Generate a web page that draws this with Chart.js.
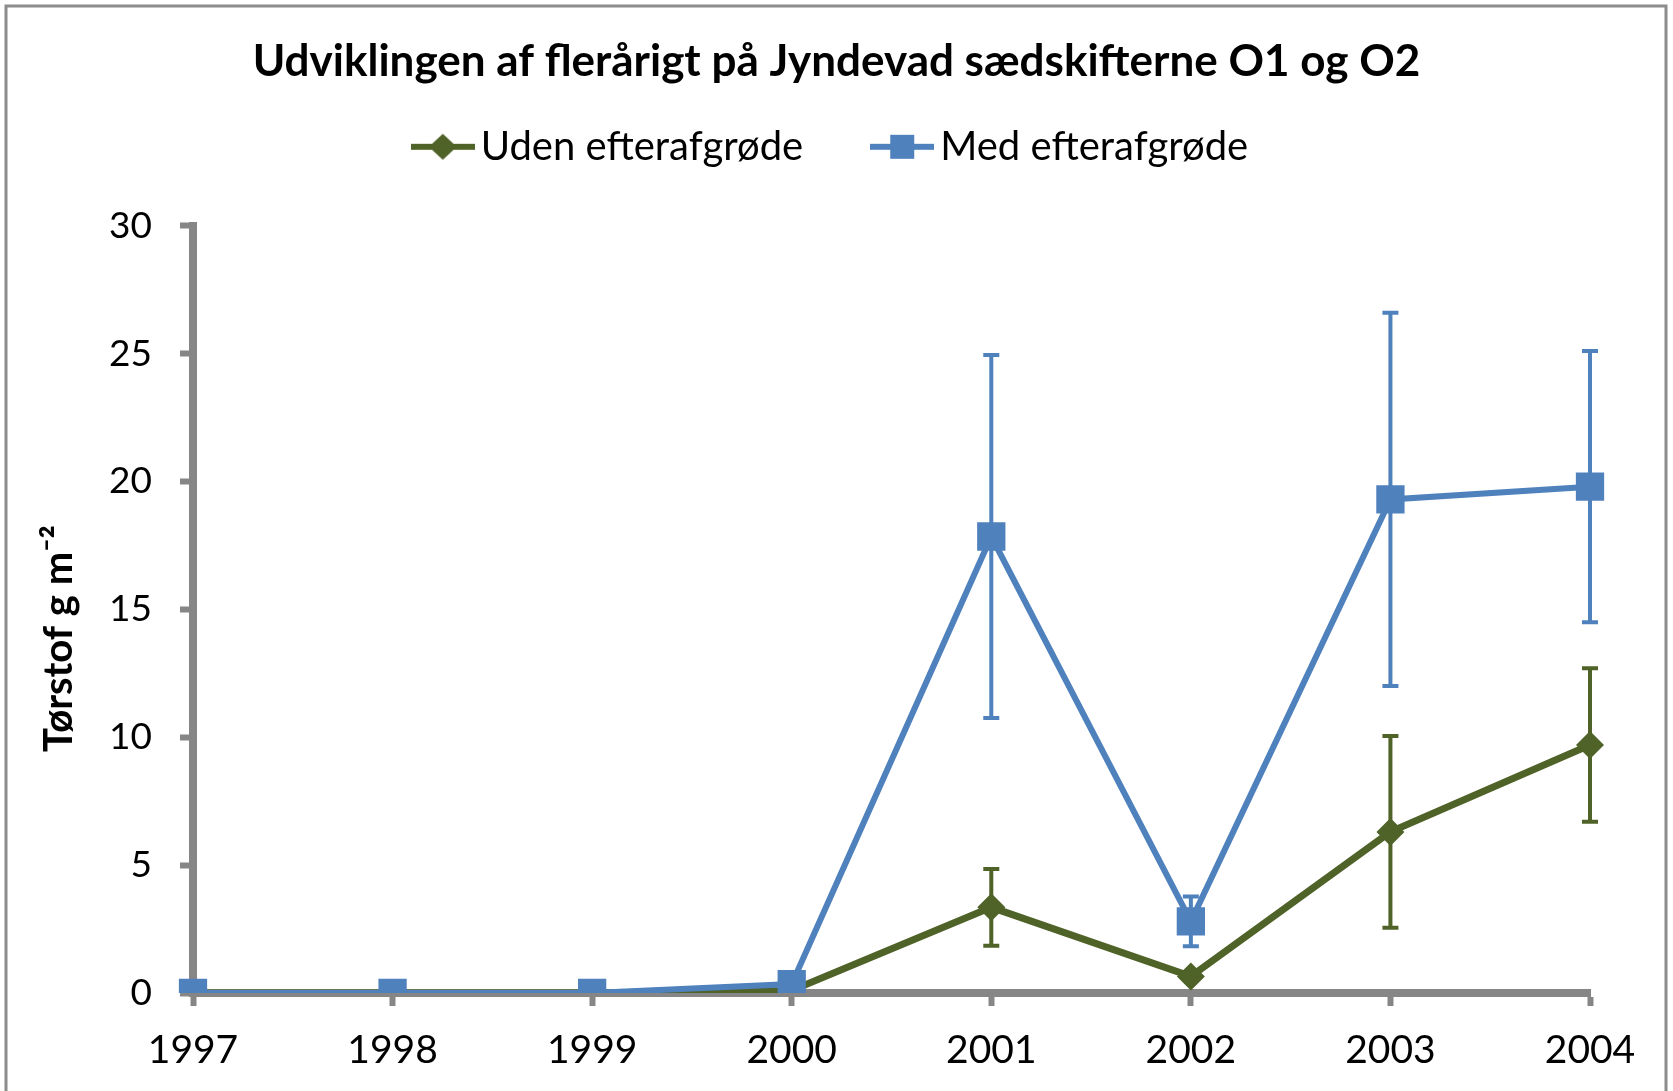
<!DOCTYPE html>
<html>
<head>
<meta charset="utf-8">
<script src="https://cdn.jsdelivr.net/npm/chart.js@4.4.1/dist/chart.umd.min.js"></script>
<style>
html,body{margin:0;padding:0;background:#fff;}
#wrap{width:1673px;height:1091px;}
</style>
</head>
<body>
<div id="wrap"><canvas id="chart" width="1673" height="1091"></canvas></div>
<script>
// ===================== Data =====================
const years = ["1997","1998","1999","2000","2001","2002","2003","2004"];
const udenVals = [0, 0, 0, 0.1, 3.35, 0.65, 6.3, 9.7];
const udenErr  = [0, 0, 0, 0, 1.5, 0, 3.75, 3.0];
const medVals  = [0, 0, 0, 0.35, 17.85, 2.8, 19.3, 19.8];
const medErr   = [0, 0, 0, 0, 7.1, 0.97, 7.3, 5.3];
const yMin = 0, yMax = 30, yStep = 5;

const GREEN = "#4f6228", BLUE = "#4f81bd", AXIS = "#868686";
const FONT = "Lato, 'Open Sans', sans-serif";

// ===================== Legend markers (line + marker) =====================
function legendIcon(color, style){
    const c = document.createElement("canvas");
    c.width = 64; c.height = 30;
    const g = c.getContext("2d");
    g.fillStyle = color; g.strokeStyle = color;
    g.lineWidth = 6;
    g.beginPath(); g.moveTo(0,15); g.lineTo(64,15); g.stroke();
    g.beginPath();
    if(style==="diamond"){
        g.moveTo(32,2); g.lineTo(46,15); g.lineTo(32,28); g.lineTo(18,15);
    }else{
        g.rect(20,3,24,24);
    }
    g.closePath(); g.fill();
    return c;
}

// ===================== Plugins =====================
const frame = {
    id:"frame",
    beforeDraw(chart){
        const ctx = chart.ctx;
        ctx.save();
        ctx.fillStyle = "#fff";
        ctx.fillRect(0,0,chart.width,chart.height);
        ctx.strokeStyle = "#8c8c8c";
        ctx.lineWidth = 3;
        ctx.beginPath();
        ctx.moveTo(6,chart.height+5); ctx.lineTo(6,6); ctx.lineTo(1666,6); ctx.lineTo(1666,chart.height+5);
        ctx.stroke();
        ctx.restore();
    }
};

const errorBars = {
    id:"errorBars",
    beforeDatasetsDraw(chart){
        const ctx = chart.ctx, ys = chart.scales.y;
        chart.data.datasets.forEach((ds,i)=>{
            const meta = chart.getDatasetMeta(i);
            ds.errors.forEach((e,j)=>{
                if(!e) return;
                const x = meta.data[j].x;
                const top = ys.getPixelForValue(ds.data[j]+e);
                const bot = ys.getPixelForValue(ds.data[j]-e);
                ctx.save();
                ctx.strokeStyle = ds.borderColor;
                ctx.lineWidth = 4;
                ctx.beginPath();
                ctx.moveTo(x,top); ctx.lineTo(x,bot);
                ctx.moveTo(x-8,top); ctx.lineTo(x+8,top);
                ctx.moveTo(x-8,bot); ctx.lineTo(x+8,bot);
                ctx.stroke();
                ctx.restore();
            });
        });
    }
};

// ===================== Chart =====================
const datasets = [
    {label:"Uden efterafgrøde", data:udenVals, errors:udenErr, order:1,
     borderColor:GREEN, backgroundColor:GREEN, borderWidth:7,
     pointStyle:"rectRot", pointRadius:14, pointBorderWidth:0, pointBackgroundColor:GREEN,
     icon:legendIcon(GREEN,"diamond")},
    {label:"Med efterafgrøde", data:medVals, errors:medErr, order:0,
     borderColor:BLUE, backgroundColor:BLUE, borderWidth:6,
     pointStyle:"rect", pointRadius:20, pointBorderWidth:0, pointBackgroundColor:BLUE,
     icon:legendIcon(BLUE,"square")}
];

new Chart(document.getElementById("chart"),{
    type:"line",
    data:{labels:years, datasets},
    options:{
        responsive:false,
        animation:false,
        layout:{padding:{left:10,right:10,top:0,bottom:0}},
        plugins:{
            title:{
                display:true,
                text:"Udviklingen af flerårigt på Jyndevad sædskifterne O1 og O2",
                color:"#000",
                font:{family:FONT,size:44,weight:"bold",lineHeight:1.2},
                padding:{top:35,bottom:-42}
            },
            legend:{
                display:true,
                position:"top",
                labels:{
                    color:"#000",
                    font:{family:FONT,size:40},
                    usePointStyle:true,
                    pointStyleWidth:36,
                    padding:81,
                    generateLabels(chart){
                        return chart.data.datasets.map((ds,i)=>({
                            text:ds.label, pointStyle:ds.icon, fillStyle:ds.borderColor,
                            strokeStyle:ds.borderColor, lineWidth:0, hidden:false,
                            datasetIndex:i, fontColor:"#000"
                        }));
                    }
                }
            },
            subtitle:{
                display:true, text:"", weight:500,
                font:{size:2,lineHeight:1},
                padding:{top:0,bottom:47}
            },
            tooltip:{enabled:false}
        },
        scales:{
            x:{
                type:"category",
                offset:false,
                grid:{display:true,drawOnChartArea:false,drawTicks:true,tickLength:13,tickWidth:6,tickColor:AXIS,color:AXIS},
                border:{display:true,color:AXIS,width:8},
                ticks:{color:"#000",font:{family:FONT,size:39},padding:21,maxRotation:0,autoSkip:false},
                afterFit(s){ s.height = 98; }
            },
            y:{
                type:"linear",
                position:"left",
                min:yMin, max:yMax,
                grid:{display:true,drawOnChartArea:false,drawTicks:true,tickLength:13,tickWidth:6,tickColor:AXIS,color:AXIS},
                border:{display:true,color:AXIS,width:8},
                ticks:{stepSize:yStep,color:"#000",font:{family:FONT,size:37},padding:28},
                title:{
                    display:true,
                    text:"Tørstof g m⁻²" + "      ",
                    color:"#000",
                    font:{family:FONT,size:40,weight:"bold",lineHeight:1.2},
                    padding:{top:25,bottom:0}
                },
                afterFit(s){ s.width = 183; }
            },
            yR:{
                type:"linear",
                position:"right",
                display:true,
                grid:{display:false},
                border:{display:false},
                ticks:{display:false},
                afterFit(s){ s.width = 73; }
            }
        }
    },
    plugins:[frame,errorBars]
});
</script>
</body>
</html>
